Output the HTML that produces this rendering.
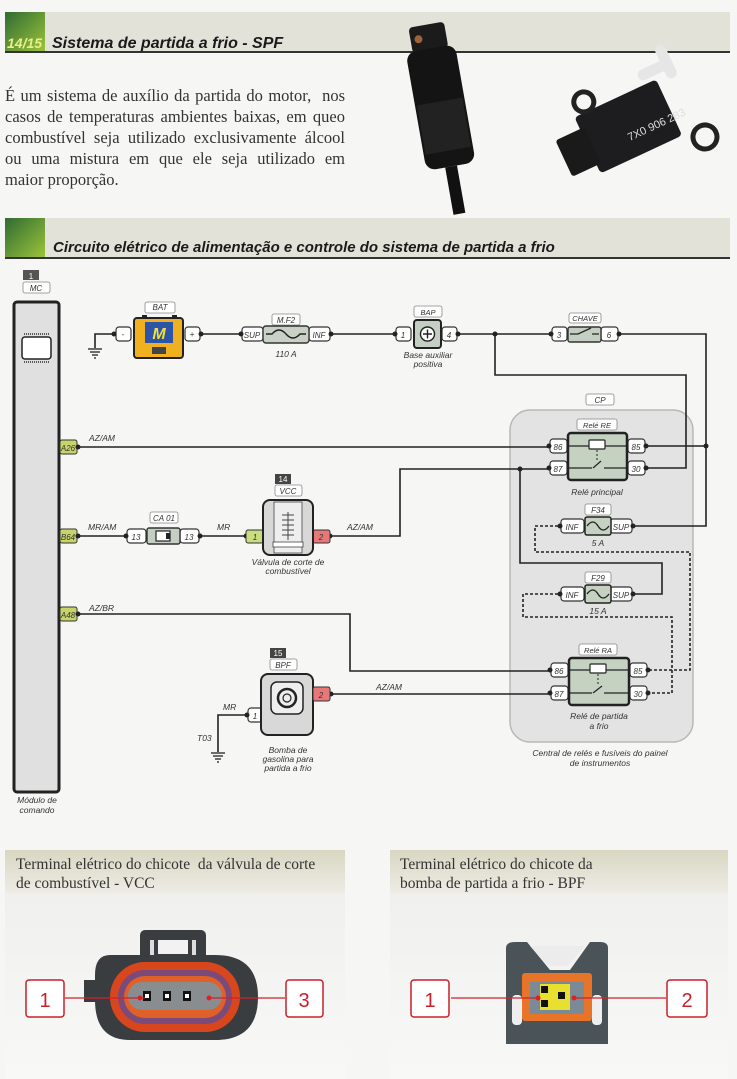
<!DOCTYPE html>
<html><head><meta charset="utf-8"><style>
html,body{margin:0;padding:0;background:#f6f6f4;}
svg{display:block;}
.t{font-family:"Liberation Sans",sans-serif;font-style:italic;fill:#333;}
.s{font-family:"Liberation Serif",serif;fill:#333;}
#para{position:absolute;left:5px;top:85px;width:340px;font-family:"Liberation Serif",serif;font-size:16.5px;line-height:21px;color:#333;}
#para div{text-align:justify;text-align-last:justify;white-space:nowrap;}
#para div.l{text-align-last:left;}
</style></head><body>
<div style="position:relative;width:737px;height:1079px;">
<svg width="737" height="1079" viewBox="0 0 737 1079" xmlns="http://www.w3.org/2000/svg">
<defs>
<linearGradient id="gr" x1="0" y1="0" x2="1" y2="1"><stop offset="0" stop-color="#2f6b33"/><stop offset="1" stop-color="#9cc43a"/></linearGradient>
<linearGradient id="hb" x1="0" y1="0" x2="0" y2="1"><stop offset="0" stop-color="#d9d6c2"/><stop offset="1" stop-color="#eeede6"/></linearGradient>
<linearGradient id="pn" x1="0" y1="0" x2="0" y2="1"><stop offset="0" stop-color="#eeeeec"/><stop offset="1" stop-color="#f8f8f7"/></linearGradient>
</defs>
<rect width="737" height="1079" fill="#f6f6f4"/>
<!-- header 1 -->
<rect x="5" y="12" width="725" height="40" fill="#e3e2d9"/>
<rect x="5" y="12" width="40" height="40" fill="url(#gr)"/>
<rect x="5" y="51" width="725" height="2" fill="#333"/>
<text x="7" y="48" font-family="Liberation Sans,sans-serif" font-weight="bold" font-style="italic" font-size="14" fill="#e8f08a">14/15</text>
<text x="52" y="48" font-family="Liberation Sans,sans-serif" font-weight="bold" font-style="italic" font-size="16" fill="#1a1a1a">Sistema de partida a frio - SPF</text>
<!-- photos -->
<g transform="rotate(-10 450 120)">
<rect x="425" y="22" width="36" height="26" rx="4" fill="#1b1b1b"/>
<rect x="418" y="46" width="50" height="120" rx="10" fill="#141414"/>
<rect x="420" y="100" width="46" height="50" fill="#222"/>
<rect x="437" y="166" width="12" height="48" fill="#111"/>
<circle cx="433" cy="35" r="4" fill="#a0623a"/>
</g>
<g transform="rotate(-25 630 130)">
<rect x="585" y="95" width="90" height="62" rx="4" fill="#1d1d1f"/>
<rect x="558" y="108" width="32" height="40" rx="3" fill="#1a1a1a"/>
<rect x="660" y="80" width="36" height="11" rx="5" fill="#e6e6e6"/>
<rect x="686" y="65" width="11" height="36" rx="5" fill="#e6e6e6"/>
<circle cx="695" cy="168" r="12" fill="none" stroke="#222" stroke-width="5"/>
<circle cx="600" cy="85" r="10" fill="none" stroke="#222" stroke-width="5"/>
<text x="625" y="140" font-family="Liberation Sans,sans-serif" font-size="11" fill="#ddd">7X0 906 283</text>
</g>
<!-- header 2 -->
<rect x="5" y="218" width="725" height="40" fill="#e3e2d9"/>
<rect x="5" y="218" width="40" height="40" fill="url(#gr)"/>
<rect x="5" y="257" width="725" height="2" fill="#333"/>
<text x="53" y="252" font-family="Liberation Sans,sans-serif" font-weight="bold" font-style="italic" font-size="15" fill="#1a1a1a">Circuito elétrico de alimentação e controle do sistema de partida a frio</text>

<!-- CP container -->
<rect x="510" y="410" width="183" height="332" rx="20" fill="#e3e3e3" stroke="#b8b8b8" stroke-width="1.5"/>
<rect x="586" y="394" width="28" height="11" rx="2" fill="#fff" stroke="#888" stroke-width="0.8"/>
<text x="600" y="403" class="t" font-size="8" text-anchor="middle">CP</text>
<text x="600" y="756" class="t" font-size="8.5" text-anchor="middle">Central de relés e fusíveis do painel</text>
<text x="600" y="766" class="t" font-size="8.5" text-anchor="middle">de instrumentos</text>

<!-- wires -->
<g stroke="#222" stroke-width="1.6" fill="none">
<path d="M95 348 V334 H112"/>
<path d="M200 334 H240"/>
<path d="M332 334 H393"/>
<path d="M458 334 H550"/>
<path d="M620 334 H706 V526 H633"/>
<path d="M495 334 V375 H686 V468 H646"/>
<path d="M646 446 H706"/>
<path d="M78 447 H548"/>
<path d="M78 536 H124"/>
<path d="M200 536 H245"/>
<path d="M330 536 H400 V469 H548"/>
<path d="M520 469 V563 H662 V594 H633"/>
<path d="M78 614 H350 V671 H548"/>
<path d="M330 694 H548"/>
<path d="M245 715 H218 V752"/>
</g>
<g stroke="#222" stroke-width="1.6" fill="none" stroke-dasharray="3,2">
<path d="M558 526 H535 V552 H690 V670 H650"/>
<path d="M558 594 H523 V617 H672 V693 H650"/>
</g>
<g fill="#222">
<circle cx="495" cy="334" r="2.5"/><circle cx="706" cy="446" r="2.5"/><circle cx="520" cy="469" r="2.5"/>
</g>
<!-- grounds -->
<g stroke="#333" stroke-width="1.4">
<line x1="88" y1="349" x2="102" y2="349"/><line x1="90" y1="352" x2="100" y2="352"/><line x1="92" y1="355" x2="98" y2="355"/><line x1="94" y1="358" x2="96" y2="358"/>
<line x1="211" y1="753" x2="225" y2="753"/><line x1="213" y1="756" x2="223" y2="756"/><line x1="215" y1="759" x2="221" y2="759"/><line x1="217" y1="762" x2="219" y2="762"/>
</g>

<!-- module MC -->
<rect x="23" y="270" width="16" height="10" fill="#555"/>
<text x="31" y="279" font-family="Liberation Sans,sans-serif" font-size="8" fill="#fff" text-anchor="middle">1</text>
<rect x="23" y="282" width="27" height="11" rx="2" fill="#fff" stroke="#888" stroke-width="0.8"/>
<text x="36" y="291" class="t" font-size="8" text-anchor="middle">MC</text>
<rect x="14" y="302" width="45" height="490" rx="3" fill="#e0e0e0" stroke="#222" stroke-width="3"/>
<rect x="22" y="337" width="29" height="22" rx="3" fill="#fff" stroke="#222" stroke-width="1.5"/>
<line x1="24" y1="334" x2="49" y2="334" stroke="#555" stroke-width="2" stroke-dasharray="1,1"/>
<line x1="24" y1="362" x2="49" y2="362" stroke="#555" stroke-width="2" stroke-dasharray="1,1"/>
<text x="37" y="803" class="t" font-size="8.5" text-anchor="middle">Módulo de</text>
<text x="37" y="813" class="t" font-size="8.5" text-anchor="middle">comando</text>
<g>
<rect x="60" y="440" width="17" height="14" rx="2" fill="#c8d46a" stroke="#333" stroke-width="1"/><circle cx="78" cy="447" r="2.5" fill="#222"/>
<text x="68" y="451" class="t" font-size="8" text-anchor="middle">A26</text>
<rect x="60" y="529" width="17" height="14" rx="2" fill="#c8d46a" stroke="#333" stroke-width="1"/><circle cx="78" cy="536" r="2.5" fill="#222"/>
<text x="68" y="540" class="t" font-size="8" text-anchor="middle">B64</text>
<rect x="60" y="607" width="17" height="14" rx="2" fill="#c8d46a" stroke="#333" stroke-width="1"/><circle cx="78" cy="614" r="2.5" fill="#222"/>
<text x="68" y="618" class="t" font-size="8" text-anchor="middle">A48</text>
</g>
<g class="t" font-size="8.5">
<text x="89" y="441">AZ/AM</text><text x="88" y="530">MR/AM</text><text x="89" y="611">AZ/BR</text>
<text x="217" y="530">MR</text><text x="347" y="530">AZ/AM</text><text x="376" y="690">AZ/AM</text>
<text x="223" y="710">MR</text><text x="197" y="741">T03</text>
</g>

<g stroke="#333" stroke-width="1.2" fill="#fff">
<rect x="116" y="327" width="15" height="14" rx="3"/><rect x="185" y="327" width="15" height="14" rx="3"/>
<rect x="242" y="327" width="21" height="14" rx="3"/><rect x="309" y="327" width="21" height="14" rx="3"/>
<rect x="396" y="327" width="15" height="14" rx="3"/><rect x="442" y="327" width="15" height="14" rx="3"/>
<rect x="552" y="327" width="15" height="14" rx="3"/><rect x="601" y="327" width="17" height="14" rx="3"/>
<rect x="127" y="529" width="19" height="14" rx="3"/><rect x="180" y="529" width="19" height="14" rx="3"/>
<rect x="550" y="439" width="17" height="14" rx="3"/><rect x="550" y="461" width="17" height="14" rx="3"/>
<rect x="628" y="439" width="17" height="14" rx="3"/><rect x="628" y="461" width="17" height="14" rx="3"/>
<rect x="561" y="519" width="23" height="14" rx="3"/><rect x="610" y="519" width="22" height="14" rx="3"/>
<rect x="561" y="587" width="23" height="14" rx="3"/><rect x="610" y="587" width="22" height="14" rx="3"/>
<rect x="551" y="663" width="17" height="14" rx="3"/><rect x="551" y="686" width="17" height="14" rx="3"/>
<rect x="630" y="663" width="17" height="14" rx="3"/><rect x="630" y="686" width="17" height="14" rx="3"/>
<rect x="248" y="708" width="14" height="14" rx="3"/>
</g>
<g fill="#222">
<circle cx="114" cy="334" r="2.5"/><circle cx="201" cy="334" r="2.5"/><circle cx="241" cy="334" r="2.5"/><circle cx="331" cy="334" r="2.5"/>
<circle cx="395" cy="334" r="2.5"/><circle cx="458" cy="334" r="2.5"/><circle cx="551" cy="334" r="2.5"/><circle cx="619" cy="334" r="2.5"/>
<circle cx="126" cy="536" r="2.5"/><circle cx="200" cy="536" r="2.5"/><circle cx="246" cy="536" r="2.5"/><circle cx="330" cy="536" r="2.5"/>
<circle cx="549" cy="446" r="2.5"/><circle cx="549" cy="468" r="2.5"/><circle cx="646" cy="446" r="2.5"/><circle cx="646" cy="468" r="2.5"/>
<circle cx="560" cy="526" r="2.5"/><circle cx="633" cy="526" r="2.5"/><circle cx="560" cy="594" r="2.5"/><circle cx="633" cy="594" r="2.5"/>
<circle cx="550" cy="670" r="2.5"/><circle cx="550" cy="693" r="2.5"/><circle cx="648" cy="670" r="2.5"/><circle cx="648" cy="693" r="2.5"/>
<circle cx="247" cy="715" r="2.5"/><circle cx="331" cy="694" r="2.5"/>
</g>
<g class="t" font-size="8" text-anchor="middle">
<text x="123" y="337">-</text><text x="192" y="337">+</text>
<text x="252" y="338">SUP</text><text x="319" y="338">INF</text>
<text x="403" y="338">1</text><text x="449" y="338">4</text>
<text x="559" y="338">3</text><text x="609" y="338">6</text>
<text x="136" y="540">13</text><text x="189" y="540">13</text>
<text x="558" y="450">86</text><text x="558" y="472">87</text><text x="636" y="450">85</text><text x="636" y="472">30</text>
<text x="572" y="530">INF</text><text x="621" y="530">SUP</text>
<text x="572" y="598">INF</text><text x="621" y="598">SUP</text>
<text x="559" y="674">86</text><text x="559" y="697">87</text><text x="638" y="674">85</text><text x="638" y="697">30</text>
<text x="255" y="719">1</text>
</g>

<!-- BAT -->
<rect x="145" y="302" width="30" height="11" rx="2" fill="#fff" stroke="#888" stroke-width="0.8"/>
<text x="160" y="310" class="t" font-size="8" text-anchor="middle">BAT</text>
<rect x="142" y="315" width="5" height="5" fill="#222"/><rect x="172" y="315" width="5" height="5" fill="#222"/>
<rect x="134" y="318" width="49" height="40" rx="3" fill="#f0b020" stroke="#222" stroke-width="2"/>
<rect x="145" y="322" width="28" height="21" fill="#2c54a8"/>
<text x="159" y="339" font-family="Liberation Sans,sans-serif" font-weight="bold" font-style="italic" font-size="16" fill="#f4e030" text-anchor="middle">M</text>
<rect x="152" y="347" width="14" height="7" fill="#444"/>
<!-- MF2 -->
<rect x="272" y="314" width="28" height="11" rx="2" fill="#fff" stroke="#888" stroke-width="0.8"/>
<text x="286" y="323" class="t" font-size="8" text-anchor="middle">M.F2</text>
<rect x="263" y="326" width="46" height="17" rx="3" fill="#c9d0c6" stroke="#333" stroke-width="1.4"/>
<path d="M266 334 H272 Q279 326 286 334 T300 334 H306" stroke="#222" stroke-width="1.4" fill="none"/>
<text x="286" y="357" class="t" font-size="8.5" text-anchor="middle">110 A</text>
<!-- BAP -->
<rect x="414" y="306" width="28" height="11" rx="2" fill="#fff" stroke="#888" stroke-width="0.8"/>
<text x="428" y="315" class="t" font-size="7.5" text-anchor="middle">BAP</text>
<rect x="414" y="320" width="27" height="28" rx="3" fill="#c5cec2" stroke="#222" stroke-width="2"/>
<circle cx="427.5" cy="334" r="7" fill="#fff" stroke="#222" stroke-width="1.4"/>
<path d="M423 334 H432 M427.5 329.5 V338.5" stroke="#222" stroke-width="1.4"/>
<text x="428" y="358" class="t" font-size="8.5" text-anchor="middle">Base auxiliar</text>
<text x="428" y="367" class="t" font-size="8.5" text-anchor="middle">positiva</text>
<!-- CHAVE -->
<rect x="569" y="313" width="32" height="10" rx="2" fill="#fff" stroke="#888" stroke-width="0.8"/>
<text x="585" y="321" class="t" font-size="7.5" text-anchor="middle">CHAVE</text>
<rect x="568" y="327" width="33" height="15" rx="2" fill="#c5cec2" stroke="#333" stroke-width="1.4"/>
<path d="M570 334 H578 L591 328 M592 334 H599" stroke="#222" stroke-width="1.3" fill="none"/>
<!-- CA01 -->
<rect x="150" y="512" width="28" height="11" rx="2" fill="#fff" stroke="#888" stroke-width="0.8"/>
<text x="164" y="521" class="t" font-size="8" text-anchor="middle">CA 01</text>
<rect x="147" y="528" width="33" height="16" rx="2" fill="#c5cec2" stroke="#333" stroke-width="1.4"/>
<rect x="156" y="531" width="14" height="10" fill="#fff" stroke="#222" stroke-width="1.2"/><rect x="166" y="533" width="4" height="6" fill="#222"/>
<!-- VCC -->
<rect x="275" y="474" width="16" height="10" fill="#444"/>
<text x="283" y="482" font-family="Liberation Sans,sans-serif" font-size="8" fill="#fff" text-anchor="middle">14</text>
<rect x="275" y="485" width="27" height="11" rx="2" fill="#fff" stroke="#888" stroke-width="0.8"/>
<text x="288" y="494" class="t" font-size="8" text-anchor="middle">VCC</text>
<rect x="246" y="530" width="17" height="13" rx="2" fill="#c8dc80" stroke="#333" stroke-width="1"/>
<text x="255" y="540" class="t" font-size="8" text-anchor="middle">1</text>
<rect x="313" y="530" width="17" height="13" rx="2" fill="#e87878" stroke="#333" stroke-width="1"/>
<text x="321" y="540" class="t" font-size="8" text-anchor="middle">2</text>
<rect x="263" y="500" width="50" height="55" rx="7" fill="#d8d8d8" stroke="#222" stroke-width="2"/>
<rect x="274" y="502" width="28" height="51" fill="#eee" stroke="#444" stroke-width="0.8"/>
<path d="M282 515 H294 M282 520 H294 M282 525 H294 M282 530 H294 M282 535 H294 M288 512 V540" stroke="#444" stroke-width="1"/>
<rect x="273" y="542" width="30" height="5" fill="#fff" stroke="#444" stroke-width="0.8"/>
<text x="288" y="565" class="t" font-size="8.5" text-anchor="middle">Válvula de corte de</text>
<text x="288" y="574" class="t" font-size="8.5" text-anchor="middle">combustível</text>
<!-- BPF -->
<rect x="270" y="648" width="16" height="10" fill="#444"/>
<text x="278" y="656" font-family="Liberation Sans,sans-serif" font-size="8" fill="#fff" text-anchor="middle">15</text>
<rect x="270" y="659" width="27" height="11" rx="2" fill="#fff" stroke="#888" stroke-width="0.8"/>
<text x="283" y="668" class="t" font-size="8" text-anchor="middle">BPF</text>
<rect x="261" y="674" width="52" height="61" rx="7" fill="#d8d8d8" stroke="#222" stroke-width="2"/>
<rect x="271" y="682" width="32" height="32" rx="6" fill="#eee" stroke="#222" stroke-width="1.5"/>
<circle cx="287" cy="698" r="9" fill="none" stroke="#222" stroke-width="2.5"/><circle cx="287" cy="698" r="4" fill="none" stroke="#222" stroke-width="1.2"/>
<rect x="313" y="687" width="17" height="14" rx="2" fill="#e87878" stroke="#333" stroke-width="1"/>
<text x="321" y="698" class="t" font-size="8" text-anchor="middle">2</text>
<text x="288" y="753" class="t" font-size="8.5" text-anchor="middle">Bomba de</text>
<text x="288" y="762" class="t" font-size="8.5" text-anchor="middle">gasolina para</text>
<text x="288" y="771" class="t" font-size="8.5" text-anchor="middle">partida a frio</text>
<!-- RE relay -->
<rect x="577" y="419" width="40" height="11" rx="2" fill="#fff" stroke="#888" stroke-width="0.8"/>
<text x="597" y="428" class="t" font-size="7.5" text-anchor="middle">Relé RE</text>
<rect x="568" y="433" width="59" height="47" rx="3" fill="#c5d2c2" stroke="#222" stroke-width="2.5"/>
<line x1="568" y1="446" x2="627" y2="446" stroke="#222" stroke-width="1.2"/><line x1="568" y1="468" x2="627" y2="468" stroke="#222" stroke-width="1.2"/>
<rect x="589" y="440" width="16" height="9" rx="1" fill="#fff" stroke="#222" stroke-width="1.2"/>
<line x1="597" y1="450" x2="597" y2="462" stroke="#222" stroke-dasharray="2,2"/>
<rect x="592" y="466" width="12" height="4" fill="#c5d2c2"/>
<path d="M593 468 L601 461" stroke="#222" stroke-width="1.2"/>
<text x="597" y="495" class="t" font-size="8.5" text-anchor="middle">Relé principal</text>
<!-- F34 -->
<rect x="585" y="504" width="26" height="11" rx="2" fill="#fff" stroke="#888" stroke-width="0.8"/>
<text x="598" y="513" class="t" font-size="8" text-anchor="middle">F34</text>
<rect x="585" y="517" width="26" height="18" rx="2" fill="#c5d2c2" stroke="#222" stroke-width="1.5"/>
<path d="M587 526 Q593 518 598 526 T609 526" stroke="#222" stroke-width="1.3" fill="none"/>
<text x="598" y="546" class="t" font-size="8.5" text-anchor="middle">5 A</text>
<!-- F29 -->
<rect x="585" y="572" width="26" height="11" rx="2" fill="#fff" stroke="#888" stroke-width="0.8"/>
<text x="598" y="581" class="t" font-size="8" text-anchor="middle">F29</text>
<rect x="585" y="585" width="26" height="18" rx="2" fill="#c5d2c2" stroke="#222" stroke-width="1.5"/>
<path d="M587 594 Q593 586 598 594 T609 594" stroke="#222" stroke-width="1.3" fill="none"/>
<text x="598" y="614" class="t" font-size="8.5" text-anchor="middle">15 A</text>
<!-- RA relay -->
<rect x="579" y="644" width="38" height="11" rx="2" fill="#fff" stroke="#888" stroke-width="0.8"/>
<text x="598" y="653" class="t" font-size="7.5" text-anchor="middle">Relé RA</text>
<rect x="569" y="658" width="60" height="47" rx="3" fill="#c5d2c2" stroke="#222" stroke-width="2.5"/>
<line x1="569" y1="670" x2="629" y2="670" stroke="#222" stroke-width="1.2"/><line x1="569" y1="693" x2="629" y2="693" stroke="#222" stroke-width="1.2"/>
<rect x="590" y="664" width="16" height="9" rx="1" fill="#fff" stroke="#222" stroke-width="1.2"/>
<line x1="598" y1="674" x2="598" y2="686" stroke="#222" stroke-dasharray="2,2"/>
<rect x="592" y="691" width="12" height="4" fill="#c5d2c2"/>
<path d="M593 693 L602 686" stroke="#222" stroke-width="1.2"/>
<text x="599" y="719" class="t" font-size="8.5" text-anchor="middle">Relé de partida</text>
<text x="599" y="729" class="t" font-size="8.5" text-anchor="middle">a frio</text>

<!-- bottom panels -->
<rect x="5" y="850" width="340" height="229" fill="url(#pn)"/>
<rect x="5" y="850" width="340" height="44" fill="url(#hb)"/>
<rect x="390" y="850" width="338" height="229" fill="url(#pn)"/>
<rect x="390" y="850" width="338" height="44" fill="url(#hb)"/>
<text x="16" y="869" class="s" font-size="15.5">Terminal elétrico do chicote&#160; da válvula de corte</text>
<text x="16" y="888" class="s" font-size="15.5">de combustível - VCC</text>
<text x="400" y="869" class="s" font-size="15.5">Terminal elétrico do chicote da</text>
<text x="400" y="888" class="s" font-size="15.5">bomba de partida a frio - BPF</text>
<!-- VCC connector -->
<rect x="140" y="930" width="66" height="40" rx="5" fill="#3a3d40"/>
<rect x="158" y="940" width="30" height="14" fill="#f2f2f2"/>
<rect x="150" y="940" width="4" height="25" fill="#ddd"/><rect x="192" y="940" width="4" height="25" fill="#ddd"/>
<rect x="84" y="980" width="20" height="22" fill="#3a3d40"/>
<path d="M110 955 H215 Q258 955 258 997 Q258 1040 215 1040 H130 Q95 1040 95 1000 V975 Q95 955 110 955 Z" fill="#3a3d40"/>
<rect x="110" y="962" width="130" height="70" rx="35" fill="#d8461e"/>
<rect x="118" y="970" width="114" height="54" rx="27" fill="#7a4a7a"/>
<rect x="124" y="976" width="102" height="42" rx="21" fill="#e0602a"/>
<rect x="128" y="982" width="94" height="28" rx="14" fill="#8a8d90"/>
<g fill="#111"><rect x="143" y="991" width="8" height="10"/><rect x="163" y="991" width="8" height="10"/><rect x="183" y="991" width="8" height="10"/></g>
<g fill="#fff"><rect x="145" y="994" width="4" height="4"/><rect x="165" y="994" width="4" height="4"/><rect x="185" y="994" width="4" height="4"/></g>
<line x1="65" y1="998" x2="145" y2="998" stroke="#d0202a" stroke-width="1.2"/>
<line x1="207" y1="998" x2="285" y2="998" stroke="#d0202a" stroke-width="1.2"/>
<circle cx="140" cy="998" r="2.5" fill="#e02020"/><circle cx="209" cy="998" r="2.5" fill="#e02020"/>
<rect x="26" y="980" width="38" height="37" rx="3" fill="#fff" stroke="#c8202a" stroke-width="1.5"/>
<text x="45" y="1007" font-family="Liberation Sans,sans-serif" font-size="20" fill="#c8202a" text-anchor="middle">1</text>
<rect x="286" y="980" width="37" height="37" rx="3" fill="#fff" stroke="#c8202a" stroke-width="1.5"/>
<text x="304" y="1007" font-family="Liberation Sans,sans-serif" font-size="20" fill="#c8202a" text-anchor="middle">3</text>
<!-- BPF connector -->
<path d="M506 948 Q506 942 515 942 H527 L550 970 H570 L590 942 H600 Q608 942 608 948 V1044 H506 Z" fill="#4a5358"/>
<path d="M530 946 H585 L568 966 H548 Z" fill="#ececec"/>
<rect x="512" y="995" width="10" height="30" rx="4" fill="#eee"/><rect x="592" y="995" width="10" height="30" rx="4" fill="#eee"/>
<rect x="522" y="973" width="70" height="48" rx="3" fill="#e8742a"/>
<rect x="530" y="982" width="54" height="32" fill="#7a8a96"/>
<rect x="540" y="984" width="30" height="26" fill="#e8e030"/>
<g fill="#111"><rect x="541" y="986" width="7" height="7"/><rect x="558" y="992" width="7" height="7"/><rect x="541" y="1000" width="7" height="7"/></g>
<line x1="451" y1="998" x2="540" y2="998" stroke="#d0202a" stroke-width="1.2"/>
<line x1="572" y1="998" x2="666" y2="998" stroke="#d0202a" stroke-width="1.2"/>
<circle cx="538" cy="998" r="2.5" fill="#e02020"/><circle cx="574" cy="998" r="2.5" fill="#e02020"/>
<rect x="411" y="980" width="38" height="37" rx="3" fill="#fff" stroke="#c8202a" stroke-width="1.5"/>
<text x="430" y="1007" font-family="Liberation Sans,sans-serif" font-size="20" fill="#c8202a" text-anchor="middle">1</text>
<rect x="667" y="980" width="40" height="37" rx="3" fill="#fff" stroke="#c8202a" stroke-width="1.5"/>
<text x="687" y="1007" font-family="Liberation Sans,sans-serif" font-size="20" fill="#c8202a" text-anchor="middle">2</text>
</svg>
<div id="para">
<div>É um sistema de auxílio da partida do motor,&#160; nos</div>
<div>casos de temperaturas ambientes baixas, em queo</div>
<div>combustível seja utilizado exclusivamente álcool</div>
<div>ou uma mistura em que ele seja utilizado em</div>
<div class="l">maior proporção.</div>
</div>
</div>
</body></html>
